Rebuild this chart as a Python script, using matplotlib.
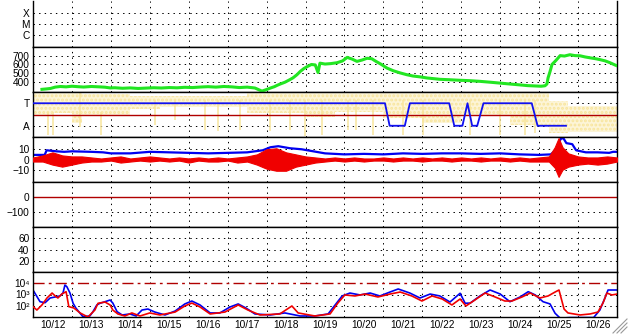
import numpy as np
import matplotlib
matplotlib.use("Agg")
import matplotlib.pyplot as plt
from matplotlib.lines import Line2D

plt.rcParams['font.family'] = ['Liberation Sans', 'DejaVu Sans']
plt.rcParams['hatch.linewidth'] = 1.4
FS = 7.3

# --- Data (time in days since 10/12 00:00) ---
day_labels = ['10/12', '10/13', '10/14', '10/15', '10/16', '10/17', '10/18',
              '10/19', '10/20', '10/21', '10/22', '10/23', '10/24', '10/25', '10/26']

# solar wind speed (green)
t_sw = [0.23, 0.35, 0.45, 0.57, 0.7, 0.85, 1.0, 1.15, 1.3, 1.5, 1.7, 1.85, 1.98, 2.1, 2.3,
        2.5, 2.7, 2.9, 3.1, 3.3, 3.5, 3.7, 3.9, 4.1, 4.3, 4.5, 4.7, 4.9, 5.1, 5.3, 5.5,
        5.7, 5.88, 6.0, 6.1, 6.2, 6.27, 6.35, 6.47, 6.58, 6.68, 6.78, 6.86, 6.96, 7.06,
        7.15, 7.25, 7.32, 7.37, 7.5, 7.65, 7.81, 7.95, 8.07, 8.2, 8.32, 8.45, 8.58, 8.7,
        8.79, 8.95, 9.09, 9.25, 9.43, 9.6, 9.76, 9.95, 10.12, 10.3, 10.45, 10.7, 10.97,
        11.2, 11.48, 11.75, 12.0, 12.25, 12.51, 12.7, 12.9, 13.05, 13.15, 13.2, 13.23,
        13.28, 13.33, 13.42, 13.54, 13.65, 13.79, 13.92, 14.05, 14.18, 14.31, 14.45,
        14.56, 14.7, 14.82, 14.92, 15.0]
v_sw = [320, 325, 330, 345, 352, 348, 355, 350, 346, 352, 348, 344, 336, 338, 332,
        336, 330, 334, 338, 335, 340, 337, 343, 340, 346, 350, 345, 352, 348, 340, 345,
        335, 300, 318, 335, 350, 365, 380, 400, 425, 450, 485, 520, 555, 580,
        600, 595, 510, 615, 605, 610, 620, 640, 680, 660, 635, 650, 670, 665,
        640, 600, 560, 530, 505, 485, 470, 460, 448, 440, 433, 428, 422,
        418, 410, 400, 390, 380, 370, 362, 358, 355, 360, 380, 450,
        520, 600, 640, 700, 695, 710, 700, 698, 685, 675, 665,
        655, 640, 620, 600, 585]

# phi angle envelope (yellow)
t_phi = [0.0, 0.5, 1.0, 1.25, 1.75, 2.5, 3.25, 5.5, 7.0, 7.75, 9.0, 10.0, 11.0, 12.25, 13.25, 13.75, 15.0]
phi_hi = [350, 350, 350, 345, 345, 330, 330, 355, 355, 355, 355, 355, 350, 350, 290, 250, 250]
phi_lo = [180, 190, 110, 180, 175, 225, 240, 190, 160, 200, 150, 110, 170, 100, 30, 40, 40]
streak_t = [0.39, 0.51, 1.21, 1.75, 3.13, 3.65, 4.42, 4.75, 5.32, 6.09, 6.6, 6.99, 7.42,
            8.09, 8.3, 8.73, 9.5, 10.02, 11.23, 12.0, 12.64, 12.9]
streak_lo = [20, 20, 80, 20, 100, 140, 60, 50, 60, 50, 60, 10, 20, 60, 60, 20, 20, 20, 20, 20, 20, 30]
streak_hi = [200, 200, 350, 200, 300, 300, 300, 300, 300, 300, 300, 300, 300, 300, 300, 300,
             300, 300, 300, 300, 300, 300]

# sector (blue T/A line)
t_sec = [0, 9.04, 9.16, 9.55, 9.68, 10.69, 10.82, 11.03, 11.16, 11.28, 11.41, 11.57, 12.81, 12.96, 13.69]
sec = [270, 270, 90, 90, 270, 270, 90, 90, 270, 90, 90, 270, 270, 90, 90]

# Bt (blue)
t_bt = [0, 0.3, 0.35, 0.6, 0.8, 1.0, 1.5, 1.8, 2.0, 2.5, 3.0, 3.5, 4.0, 4.5, 5.0, 5.5, 5.9,
        6.1, 6.3, 6.6, 6.9, 7.2, 7.5, 8.0, 8.5, 9.0, 9.5, 10.0, 10.5, 11.0, 11.5, 12.0, 12.5,
        13.0, 13.3, 13.45, 13.55, 13.62, 13.7, 13.85, 13.95, 14.2, 14.5, 14.8, 14.9, 15.0]
bt = [4.5, 4.5, 9, 8, 7.5, 8, 7.5, 7, 6, 6, 7.5, 7, 6.5, 6, 6.5, 7, 9,
      12, 13, 11, 10, 8, 6, 5, 5.5, 5, 6, 5.5, 6, 6, 5.5, 6, 5,
      4.5, 5, 10, 20, 21, 16, 15, 9, 7, 7, 6.5, 7.5, 7.5]

# Bz envelope (red)
t_bz = [0, 0.25, 0.5, 0.75, 1.0, 1.25, 1.5, 1.75, 2.0, 2.25, 2.5, 2.75, 3.0, 3.25, 3.5, 3.75,
        4.0, 4.25, 4.5, 4.75, 5.0, 5.25, 5.5, 5.75, 6.0, 6.25, 6.5, 6.75, 7.0, 7.25, 7.5, 7.75,
        8.0, 8.25, 8.5, 8.75, 9.0, 9.25, 9.5, 9.75, 10.0, 10.25, 10.5, 10.75, 11.0, 11.25,
        11.5, 11.75, 12.0, 12.25, 12.5, 12.75, 13.0, 13.25, 13.4, 13.5, 13.6, 13.75, 14.0,
        14.25, 14.5, 14.75, 15.0]
bz_hi = [2, 4, 7, 4, 3, 3, 2, 1, 2, 3, 1, 2, 3, 2, 1, 2,
         1, 2, 1, 2, 1, 2, 3, 5, 10, 11, 7, 5, 3, 2, 1, 2,
         1, 2, 1, 1, 2, 1, 2, 1, 2, 1, 2, 1, 2, 1,
         2, 1, 2, 1, 2, 1, 2, 3, 12, 21, 12, 6, 3, 2, 2, 3, 2]
bz_lo = [-2, -2, -5, -7, -5, -3, -2, -2, -1, -3, -2, -1, -2, -1, -2, -1,
         -3, -1, -2, -2, -1, -3, -2, -5, -9, -11, -11, -7, -5, -3, -2, -1,
         -2, -1, -2, -1, -1, -2, -1, -1, -2, -1, -1, -2, -1, -1,
         -2, -1, -1, -2, -1, -2, -2, -2, -8, -17, -10, -7, -5, -4, -5, -4, -2]

# particle flux, log10 (blue and red)
t_fb = [0, 0.18, 0.31, 0.44, 0.57, 0.69, 0.77, 0.82, 0.87, 0.95, 1.03, 1.10, 1.21, 1.28,
        1.46, 1.54, 1.64, 1.72, 1.85, 1.98, 2.05, 2.16, 2.29, 2.49, 2.65, 2.8, 2.95, 3.13,
        3.39, 3.65, 3.9, 4.08, 4.29, 4.55, 4.8, 5.06, 5.27, 5.47, 5.7, 6.09, 6.47, 6.86,
        7.24, 7.58, 7.76, 7.94, 8.14, 8.4, 8.66, 8.91, 9.17, 9.38, 9.68, 9.94, 10.2, 10.45,
        10.71, 10.97, 11.1, 11.23, 11.48, 11.74, 12.0, 12.25, 12.51, 12.72, 12.9, 13.1,
        13.28, 13.41, 13.54, 13.8, 14.1, 14.4, 14.56, 14.69, 14.77, 15.0]
lf_b = [3.4, 2.36, 2.27, 2.69, 2.78, 2.87, 3.13, 3.84, 3.69, 3.13, 2.22, 1.8, 1.33, 1.04,
        1.09, 1.47, 2.07, 2.22, 2.36, 2.51, 2.24, 1.47, 1.18, 1.27, 1.09, 1.62, 1.71, 1.44,
        1.18, 1.53, 2.16, 2.42, 2.07, 1.36, 1.36, 1.89, 2.16, 1.8, 1.27, 1.18, 1.36, 1.09,
        1.09, 1.27, 2.07, 2.87, 3.13, 2.96, 3.13, 2.87, 3.22, 3.49, 3.13, 2.69, 3.04, 2.87,
        2.33, 3.11, 2.22, 2.24, 2.87, 3.4, 3.04, 2.36, 2.78, 3.25, 2.96, 2.36,
        2.16, 1.33, 0.9, 0.95, 0.95, 0.95, 1.62, 2.69, 3.4, 3.4]
t_fr = [0, 0.1, 0.23, 0.36, 0.49, 0.57, 0.64, 0.74, 0.85, 0.92, 1.05, 1.21, 1.41, 1.59,
        1.67, 1.85, 1.98, 2.05, 2.18, 2.36, 2.54, 2.75, 3.0, 3.26, 3.65, 3.9, 4.08, 4.29,
        4.55, 4.93, 5.27, 5.52, 5.83, 6.34, 6.65, 6.81, 7.24, 7.63, 7.83, 8.01, 8.27, 8.53,
        8.86, 9.17, 9.43, 9.73, 9.99, 10.25, 10.51, 10.76, 10.97, 11.12, 11.35, 11.61,
        11.87, 12.12, 12.3, 12.56, 12.77, 13.02, 13.23, 13.41, 13.51, 13.64, 13.74, 14.05,
        14.31, 14.51, 14.64, 14.74, 14.87, 15.0]
lf_r = [1.92, 1.62, 2.07, 2.69, 3.13, 2.87, 2.69, 3.04, 3.25, 1.92, 1.8, 1.36, 1.0, 1.62,
        2.22, 2.33, 2.07, 1.62, 1.27, 1.09, 1.36, 1.09, 1.36, 1.18, 1.44, 1.98, 2.24, 1.89,
        1.27, 1.44, 2.07, 1.62, 1.18, 1.27, 1.98, 1.36, 1.09, 1.27, 2.24, 2.96, 2.87, 3.04,
        2.78, 3.04, 3.22, 2.87, 2.42, 2.87, 2.6, 2.07, 2.6, 1.98, 2.51, 3.13,
        2.78, 2.42, 2.42, 2.78, 3.13, 2.69, 2.87, 3.22, 3.4, 1.71, 1.36, 1.18,
        1.27, 1.44, 2.24, 3.13, 2.96, 3.04]

# --- Layout (pixels) ---
W, H = 628, 334
LEFT, RIGHT = 33, 617
tops = [1, 47, 92, 137, 182, 227, 272]
BOTTOM = 317
DARKRED = '#B00000'
YELLOW = '#F8E59C'
GRID = dict(color='black', lw=0.72, ls=(0, (1.4, 4.2)))

fig = plt.figure(figsize=(W / 100, H / 100), dpi=100)
axes = []
for i, top in enumerate(tops):
    bot = tops[i + 1] if i < len(tops) - 1 else BOTTOM
    ax = fig.add_axes([LEFT / W, 1 - bot / H, (RIGHT - LEFT) / W, (bot - top) / H])
    ax.set_xlim(0, 15)
    for s in ax.spines.values():
        s.set_linewidth(1.0)
    if i == 0:
        ax.spines['top'].set_visible(False)
    for d in range(1, 15):
        ax.axvline(d, zorder=0, **GRID)
    ax.set_xticks([])
    ax.tick_params(axis='y', length=0, pad=2.5, labelsize=FS)
    axes.append(ax)


def hgrid(ax, vals):
    for v in vals:
        ax.axhline(v, zorder=0, **GRID)


# panel 1: X-ray classes
ax = axes[0]
ax.set_yscale('log')
ax.set_ylim(10 ** -7.15, 10 ** -2.85)
ax.set_yticks([1e-4, 1e-5, 1e-6], ['X', 'M', 'C'])
ax.minorticks_off()
hgrid(ax, [1e-4, 1e-5, 1e-6])

# panel 2: speed
ax = axes[1]
ax.set_ylim(290, 797)
ax.set_yticks([400, 500, 600, 700])
hgrid(ax, [400, 500, 600, 700])
ax.plot(t_sw, v_sw, color='#22E622', lw=2.2, zorder=3)

# panel 3: phi / sector
ax = axes[2]
ax.set_ylim(0, 360)
ax.set_yticks([270, 90], ['T', 'A'])
hgrid(ax, [270, 90])
ax.fill_between(t_phi, phi_lo, phi_hi, step='post', facecolor='#FDF5D8',
                edgecolor=YELLOW, hatch='....', lw=0, zorder=1)
ax.vlines(streak_t, streak_lo, streak_hi, color=YELLOW, lw=1.1, zorder=1)
ax.axhline(180, color=DARKRED, lw=1.0, zorder=2)
ax.plot(t_sec, sec, color='#1010F0', lw=1.3, zorder=3)

# panel 4: Bt / Bz
ax = axes[3]
ax.set_ylim(-22, 22)
ax.set_yticks([10, 0, -10])
hgrid(ax, [10, -10])
ax.axhline(0, color=DARKRED, lw=1.0, zorder=1)
ax.plot(t_bt, bt, color='#0000F0', lw=1.6, zorder=2)
ax.fill_between(t_bz, bz_lo, bz_hi, color='#F00000', lw=0.8, zorder=3)

# panel 5
ax = axes[4]
ax.set_ylim(-200, 100)
ax.set_yticks([0, -100])
hgrid(ax, [-100])
ax.axhline(0, color=DARKRED, lw=1.0)

# panel 6
ax = axes[5]
ax.set_ylim(0, 80)
ax.set_yticks([60, 40, 20])
hgrid(ax, [60, 40, 20])

# panel 7: flux
ax = axes[6]
ax.set_yscale('log')
ax.set_ylim(10, 1e5)
ax.set_yticks([1e4, 1e3, 1e2], ['10\u2074', '10\u00b3', '10\u00b2'])
ax.minorticks_off()
ax.tick_params(axis='y', labelsize=FS, pad=2)
hgrid(ax, [1e3, 1e2])
ax.axhline(1e4, color=DARKRED, lw=1.0, ls=(0, (8, 3, 2, 3)))
ax.plot(t_fb, 10 ** np.array(lf_b), color='#0000F0', lw=1.2, zorder=2)
ax.plot(t_fr, 10 ** np.array(lf_r), color='#F00000', lw=1.2, zorder=3)
ax.set_xticks(np.arange(0.5, 15, 1))
ax.set_xticklabels(day_labels)
ax.tick_params(axis='x', length=0, pad=2.5, labelsize=FS)

# window resize grip in the corner
for k in range(3):
    off = 4 * k
    fig.add_artist(Line2D([(613 + off) / W, 627 / W], [1 - 333 / H, 1 - (319 + off) / H],
                          color='#999999', lw=0.8, transform=fig.transFigure))

fig.savefig('out.png', dpi=100)
